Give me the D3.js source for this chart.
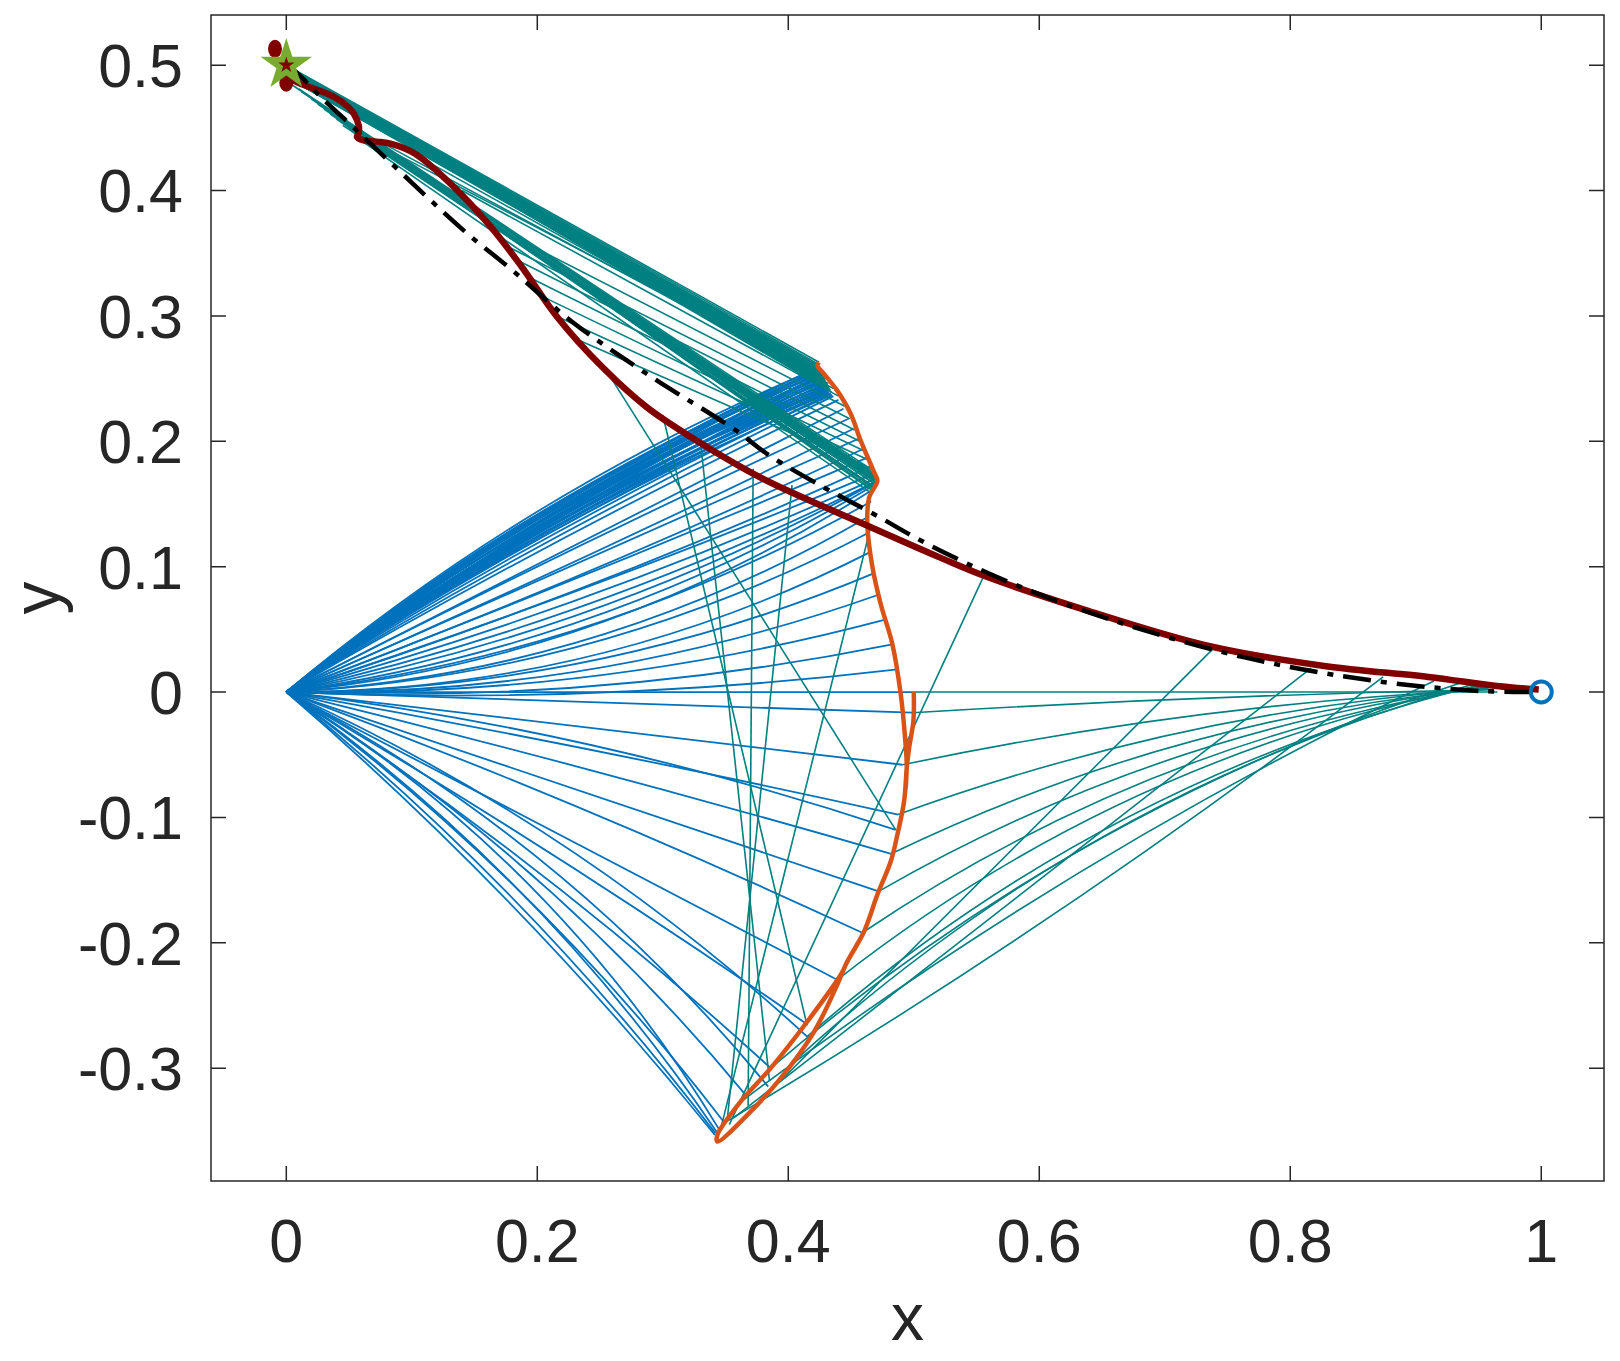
<!DOCTYPE html>
<html>
<head>
<meta charset="utf-8">
<title>Trajectories</title>
<style>
  body { margin: 0; background: #fff; }
  text { font-family: "Liberation Sans", Arial, Helvetica, sans-serif; fill: #262626; }
</style>
</head>
<body>
<svg width="1620" height="1361"></svg>
<script src="https://cdn.jsdelivr.net/npm/d3@7"></script>
<script>

    var xTicks = [0, 0.2, 0.4, 0.6, 0.8, 1];
    var yTicks = [-0.3, -0.2, -0.1, 0, 0.1, 0.2, 0.3, 0.4, 0.5];

    // orange locus: down one strand to the bottom, back up the other
    var orangePath = [
        [0.500, 0.000], [0.4997, -0.023], [0.4963, -0.0445], [0.4944, -0.0605], [0.4923, -0.087],
        [0.487, -0.1135], [0.4817, -0.135], [0.471, -0.1616], [0.4604, -0.191], [0.447, -0.215],
        [0.439, -0.2335], [0.4205, -0.271], [0.394, -0.308], [0.3674, -0.3373], [0.3435, -0.3586],
        [0.3435, -0.3533], [0.362, -0.3267], [0.386, -0.300], [0.4152, -0.2628], [0.4418, -0.2255],
        [0.447, -0.215], [0.4604, -0.191], [0.471, -0.1616], [0.4817, -0.135], [0.487, -0.1135],
        [0.4923, -0.087], [0.4944, -0.0605], [0.4928, -0.0335], [0.4896, -0.0016], [0.483, 0.038],
        [0.4737, 0.070], [0.467, 0.100], [0.463, 0.134], [0.4644, 0.155], [0.471, 0.1685],
        [0.4684, 0.1752], [0.4577, 0.2005], [0.4498, 0.2218], [0.439, 0.2404], [0.4285, 0.2538],
        [0.4232, 0.2604], [0.4245, 0.263]
    ];

    var redPath = [
        [0.000, 0.497], [0.006, 0.488], [0.020, 0.482], [0.038, 0.4747], [0.049, 0.467],
        [0.0537, 0.4614], [0.0577, 0.452], [0.0577, 0.446], [0.0564, 0.4427], [0.0617, 0.440],
        [0.072, 0.439], [0.083, 0.4374], [0.1023, 0.4295], [0.1308, 0.4055], [0.163, 0.371],
        [0.1877, 0.339], [0.216, 0.299], [0.252, 0.259], [0.2874, 0.227], [0.323, 0.203],
        [0.378, 0.171], [0.46, 0.134], [0.5215, 0.107], [0.556, 0.0927], [0.639, 0.0647],
        [0.735, 0.0367], [0.827, 0.0208], [0.910, 0.012], [0.9646, 0.0048], [0.998, 0.002]
    ];

    var blackPath = [
        [0.000, 0.500], [0.0075, 0.4947], [0.0275, 0.4747], [0.056, 0.448], [0.0952, 0.4108],
        [0.1415, 0.368], [0.1806, 0.336], [0.2269, 0.296], [0.2874, 0.2537], [0.3586, 0.2085],
        [0.383, 0.190], [0.426, 0.1645], [0.468, 0.142], [0.511, 0.118], [0.5766, 0.0873],
        [0.660, 0.0567], [0.7645, 0.0274], [0.868, 0.0088], [0.952, 0.0008], [1.000, 0.000]
    ];

    // blue rays from the origin: end x, end y, bend
    var blueRays = [
        [0.417, 0.256, 0.055], [0.4175, 0.2555, 0.075], [0.418, 0.255, 0.04], [0.4185, 0.2545, 0.065],
        [0.419, 0.254, 0.05], [0.4195, 0.2535, 0.072], [0.420, 0.253, 0.035], [0.4205, 0.2525, 0.06],
        [0.421, 0.252, 0.068], [0.4215, 0.2515, 0.078], [0.422, 0.251, 0.045], [0.4225, 0.2505, 0.058],
        [0.423, 0.250, 0.038], [0.4235, 0.249, 0.07], [0.424, 0.248, 0.052], [0.4245, 0.2475, 0.064],
        [0.425, 0.247, 0.036], [0.4255, 0.2465, 0.056], [0.426, 0.246, 0.066], [0.4265, 0.245, 0.042],
        [0.427, 0.2445, 0.05], [0.4275, 0.244, 0.07], [0.428, 0.2435, 0.034], [0.4285, 0.243, 0.058],
        [0.429, 0.2425, 0.062], [0.4295, 0.242, 0.04], [0.430, 0.2415, 0.048], [0.4305, 0.241, 0.066],
        [0.431, 0.2405, 0.055], [0.4315, 0.240, 0.036], [0.432, 0.2395, 0.044], [0.4325, 0.239, 0.06],
        [0.433, 0.2385, 0.05], [0.434, 0.238, 0.032], [0.435, 0.237, 0.045], [0.436, 0.236, 0.025],
        [0.440, 0.233, 0.02], [0.444, 0.226, 0.0], [0.448, 0.218, 0.01], [0.452, 0.210, -0.01],
        [0.456, 0.202, 0.0], [0.460, 0.194, -0.02], [0.463, 0.187, -0.01], [0.466, 0.180, -0.03],
        [0.468, 0.174, -0.02], [0.469, 0.170, -0.04], [0.470, 0.168, -0.06], [0.469, 0.167, -0.08],
        [0.470, 0.166, -0.10], [0.468, 0.162, -0.12], [0.466, 0.152, -0.10], [0.464, 0.140, -0.12],
        [0.464, 0.127, -0.11], [0.466, 0.112, -0.12], [0.469, 0.095, -0.10], [0.473, 0.078, -0.09],
        [0.478, 0.058, -0.07], [0.483, 0.038, -0.06], [0.487, 0.018, -0.04],
        [0.500, 0.000, 0], [0.499, -0.0165, 0], [0.491, -0.058, 0], [0.4875, -0.0977, 0.01],
        [0.4856, -0.110, 0.05], [0.482, -0.129, 0.01], [0.472, -0.159, 0], [0.459, -0.192, 0.02],
        [0.439, -0.2295, 0], [0.415, -0.265, 0.02], [0.415, -0.2748, 0.08], [0.386, -0.300, 0.04],
        [0.384, -0.3147, 0.10], [0.366, -0.3213, 0.08], [0.3485, -0.3427, 0.07], [0.3415, -0.3533, 0.045],
        [0.342, -0.352, 0.06], [0.343, -0.351, 0.09], [0.345, -0.349, 0.12]
    ];

    // teal links: x1, y1, x2, y2, bend
    var tealLinks = [
        // top band, orange tip to the start point
        [0.4245, 0.263, 0.000, 0.500, 0], [0.4240, 0.2615, 0.001, 0.499, 0], [0.4235, 0.260, 0.002, 0.498, 0],
        [0.4240, 0.2585, 0.003, 0.497, 0], [0.4250, 0.257, 0.004, 0.496, 0], [0.4258, 0.2555, 0.005, 0.495, 0],
        [0.4266, 0.254, 0.006, 0.494, 0], [0.4274, 0.2525, 0.007, 0.493, 0], [0.4282, 0.251, 0.008, 0.492, 0],
        [0.4290, 0.2495, 0.009, 0.491, 0], [0.4298, 0.248, 0.010, 0.490, 0], [0.4306, 0.2465, 0.011, 0.489, 0],
        [0.4314, 0.245, 0.012, 0.488, 0], [0.4322, 0.2435, 0.013, 0.487, 0], [0.4330, 0.242, 0.014, 0.486, 0],
        [0.4338, 0.2405, 0.015, 0.485, 0], [0.4346, 0.239, 0.016, 0.484, 0], [0.4238, 0.2605, 0.000, 0.496, 0],
        [0.4248, 0.2578, 0.002, 0.493, 0], [0.4262, 0.2548, 0.004, 0.490, 0], [0.4278, 0.2518, 0.006, 0.488, 0],
        [0.4294, 0.2488, 0.008, 0.486, 0], [0.4310, 0.2458, 0.010, 0.485, 0], [0.4326, 0.2428, 0.012, 0.484, 0],
        // second band, kink to early points
        [0.469, 0.168, 0.056, 0.444, 0], [0.469, 0.166, 0.050, 0.450, 0], [0.468, 0.164, 0.040, 0.457, 0],
        [0.469, 0.170, 0.030, 0.465, 0], [0.468, 0.172, 0.020, 0.473, 0], [0.467, 0.174, 0.012, 0.479, 0],
        [0.466, 0.176, 0.005, 0.484, 0], [0.469, 0.162, 0.062, 0.442, 0], [0.468, 0.160, 0.070, 0.439, 0],
        [0.470, 0.169, 0.045, 0.452, 0], [0.469, 0.171, 0.060, 0.443, 0], [0.470, 0.167, 0.054, 0.446, 0],
        [0.467, 0.158, 0.058, 0.441, 0], [0.468, 0.173, 0.052, 0.448, 0], [0.470, 0.165, 0.035, 0.461, 0],
        [0.467, 0.175, 0.025, 0.469, 0], [0.468, 0.161, 0.064, 0.443, 0], [0.469, 0.163, 0.066, 0.440, 0],
        [0.467, 0.177, 0.010, 0.481, 0], [0.469, 0.169, 0.058, 0.445, 0],
        // fan between the bands
        [0.430, 0.250, 0.065, 0.441, 0], [0.432, 0.246, 0.080, 0.436, 0], [0.436, 0.242, 0.100, 0.430, 0],
        [0.440, 0.236, 0.140, 0.400, 0], [0.445, 0.228, 0.160, 0.374, 0], [0.449, 0.218, 0.175, 0.356, 0],
        [0.453, 0.209, 0.185, 0.344, 0], [0.457, 0.200, 0.195, 0.330, 0], [0.461, 0.192, 0.205, 0.315, 0],
        [0.464, 0.185, 0.215, 0.300, 0], [0.467, 0.178, 0.230, 0.282, 0],
        // from mid points of the path down to the bottom
        [0.466, 0.133, 0.347, -0.345, 0], [0.403, 0.165, 0.3515, -0.340, 0], [0.372, 0.178, 0.368, -0.330, 0],
        [0.330, 0.200, 0.385, -0.310, 0], [0.300, 0.221, 0.415, -0.266, 0], [0.256, 0.255, 0.4856, -0.110, 0],
        [0.556, 0.093, 0.353, -0.345, 0], [0.738, 0.034, 0.370, -0.334, 0], [0.8166, 0.019, 0.356, -0.340, 0],
        [0.874, 0.012, 0.350, -0.343, 0.03], [0.9145, 0.0088, 0.362, -0.327, -0.05],
        // lower points to the end point
        [0.500, 0.000, 0.965, 0.000, 0], [0.499, -0.0165, 0.962, 0.002, 0.01], [0.491, -0.058, 0.960, 0.002, 0.04],
        [0.4875, -0.0977, 0.958, 0.003, 0.07], [0.482, -0.129, 0.956, 0.003, 0.09], [0.472, -0.159, 0.955, 0.004, 0.10],
        [0.459, -0.192, 0.953, 0.004, 0.11], [0.439, -0.2295, 0.951, 0.005, 0.12], [0.415, -0.2748, 0.948, 0.005, 0.12],
        [0.402, -0.297, 0.945, 0.006, 0.12], [0.386, -0.300, 0.935, 0.007, 0.10]
    ];

    var startDots = [[-0.009, 0.513], [0.000, 0.486]];
    var startPoint = [0, 0.5];
    var endPoint = [1, 0];

    var svg = d3.select("svg"),
        width = +svg.attr("width"),
        height = +svg.attr("height");

    var plotLeft = 211, plotRight = 1604, plotTop = 15, plotBottom = 1181;

    var x = d3.scaleLinear().domain([-0.06, 1.05]).range([plotLeft, plotRight]);
    var y = d3.scaleLinear().domain([-0.39, 0.54]).range([plotBottom, plotTop]);

    svg.append("rect").attr("width", width).attr("height", height).attr("fill", "#fff");

    svg.append("defs").append("clipPath").attr("id", "clip")
        .append("rect").attr("x", plotLeft).attr("y", plotTop)
        .attr("width", plotRight - plotLeft).attr("height", plotBottom - plotTop);

    var plot = svg.append("g").attr("clip-path", "url(#clip)");

    // quadratic curve from p to q, control pushed to the left of travel
    function bent(x1, y1, x2, y2, b) {
        var cx = (x1 + x2) / 2 - b * (y2 - y1),
            cy = (y1 + y2) / 2 + b * (x2 - x1);
        var p = d3.path();
        p.moveTo(x(x1), y(y1));
        p.quadraticCurveTo(x(cx), y(cy), x(x2), y(y2));
        return p.toString();
    }

    plot.append("g").selectAll("path")
        .data(blueRays)
        .enter().append("path")
            .attr("d", function(d) { return bent(0, 0, d[0], d[1], d[2]); })
            .attr("fill", "none")
            .attr("stroke", "#0072BD")
            .attr("stroke-width", 1.8);

    plot.append("g").selectAll("path")
        .data(tealLinks)
        .enter().append("path")
            .attr("d", function(d) { return bent(d[0], d[1], d[2], d[3], d[4]); })
            .attr("fill", "none")
            .attr("stroke", "#008080")
            .attr("stroke-width", 1.6);

    var line = d3.line()
        .x(function(d) { return x(d[0]); })
        .y(function(d) { return y(d[1]); })
        .curve(d3.curveCatmullRom);

    plot.append("path")
        .datum(orangePath)
        .attr("d", line)
        .attr("fill", "none")
        .attr("stroke", "#D95319")
        .attr("stroke-width", 4.5)
        .attr("stroke-linejoin", "round");

    plot.selectAll(".dot")
        .data(startDots)
        .enter().append("ellipse")
            .attr("class", "dot")
            .attr("cx", function(d) { return x(d[0]); })
            .attr("cy", function(d) { return y(d[1]); })
            .attr("rx", 7).attr("ry", 9)
            .attr("fill", "#800000");

    plot.append("path")
        .datum(redPath)
        .attr("d", line)
        .attr("fill", "none")
        .attr("stroke", "#800000")
        .attr("stroke-width", 6.5)
        .attr("stroke-linejoin", "round");

    plot.append("path")
        .datum(blackPath)
        .attr("d", line)
        .attr("fill", "none")
        .attr("stroke", "#000")
        .attr("stroke-width", 4.5)
        .attr("stroke-dasharray", "28,10,6,10");

    var star = d3.symbol().type(d3.symbolStar);

    plot.append("path")
        .attr("d", star.size(820)())
        .attr("transform", "translate(" + x(startPoint[0]) + "," + y(startPoint[1]) + ")")
        .attr("fill", "#77AC30");

    plot.append("path")
        .attr("d", star.size(80)())
        .attr("transform", "translate(" + x(startPoint[0]) + "," + y(startPoint[1]) + ")")
        .attr("fill", "#800000");

    plot.append("circle")
        .attr("cx", x(endPoint[0]))
        .attr("cy", y(endPoint[1]))
        .attr("r", 10.5)
        .attr("fill", "none")
        .attr("stroke", "#0072BD")
        .attr("stroke-width", 4);

    // axes box with inward ticks on all sides
    var axisColor = "#262626";
    var axes = svg.append("g");

    axes.append("rect")
        .attr("x", plotLeft).attr("y", plotTop)
        .attr("width", plotRight - plotLeft).attr("height", plotBottom - plotTop)
        .attr("fill", "none")
        .attr("stroke", axisColor)
        .attr("stroke-width", 1.5);

    axes.selectAll(".xt")
        .data(xTicks)
        .enter().append("path")
            .attr("class", "xt")
            .attr("d", function(d) {
                return "M" + x(d) + "," + plotBottom + "V" + (plotBottom - 15) +
                       "M" + x(d) + "," + plotTop + "V" + (plotTop + 15);
            })
            .attr("stroke", axisColor).attr("stroke-width", 1.5);

    axes.selectAll(".yt")
        .data(yTicks)
        .enter().append("path")
            .attr("class", "yt")
            .attr("d", function(d) {
                return "M" + plotLeft + "," + y(d) + "H" + (plotLeft + 15) +
                       "M" + plotRight + "," + y(d) + "H" + (plotRight - 15);
            })
            .attr("stroke", axisColor).attr("stroke-width", 1.5);

    axes.selectAll(".xl")
        .data(xTicks)
        .enter().append("text")
            .attr("class", "xl")
            .attr("x", function(d) { return x(d); })
            .attr("y", plotBottom + 81)
            .attr("text-anchor", "middle")
            .attr("font-size", 61)
            .text(function(d) { return String(d); });

    axes.selectAll(".yl")
        .data(yTicks)
        .enter().append("text")
            .attr("class", "yl")
            .attr("x", plotLeft - 28)
            .attr("y", function(d) { return y(d); })
            .attr("dy", "0.36em")
            .attr("text-anchor", "end")
            .attr("font-size", 61)
            .text(function(d) { return String(d); });

    axes.append("text")
        .attr("x", (plotLeft + plotRight) / 2)
        .attr("y", 1340)
        .attr("text-anchor", "middle")
        .attr("font-size", 66)
        .text("x");

    axes.append("text")
        .attr("transform", "translate(59," + ((plotTop + plotBottom) / 2) + ") rotate(-90)")
        .attr("text-anchor", "middle")
        .attr("font-size", 66)
        .text("y");

</script>
</body>
</html>
